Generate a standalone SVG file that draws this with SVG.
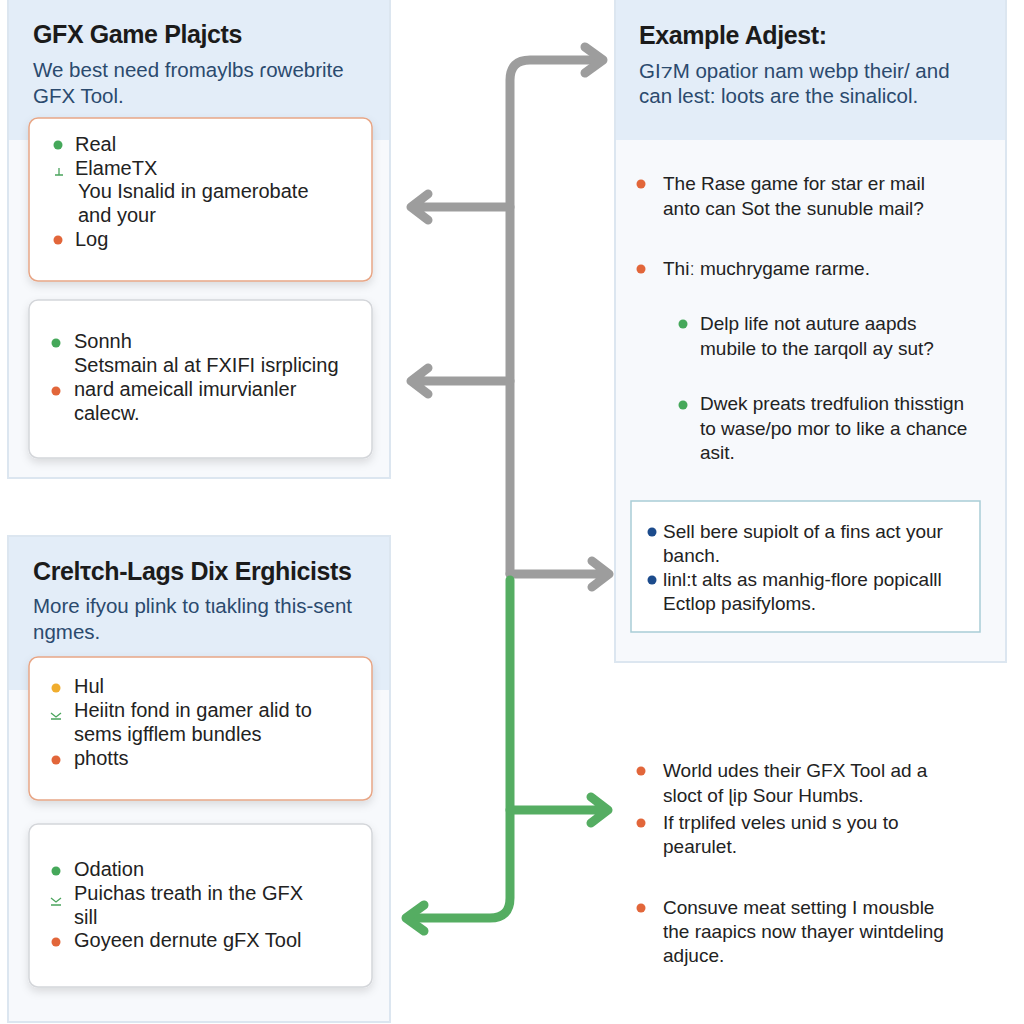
<svg xmlns="http://www.w3.org/2000/svg" width="1024" height="1024" viewBox="0 0 1024 1024">
<defs>
<filter id="sh" x="-10%" y="-10%" width="120%" height="130%">
<feDropShadow dx="0" dy="4" stdDeviation="4" flood-color="#000" flood-opacity="0.12"/>
</filter>
<style>
.panel{fill:#f7f9fc;stroke:#dce6f0;stroke-width:2}
.head{fill:#e3edf8}
.card{fill:#fff;stroke-width:1.5}
.co{stroke:#e8a686}
.cg{stroke:#d4d6da}
.title{font-family:"Liberation Sans",Arial,sans-serif;font-weight:bold;font-size:25px;fill:#1b1b1b;letter-spacing:-0.4px}
.sub{font-family:"Liberation Sans",Arial,sans-serif;font-size:20.5px;fill:#2b4a6e}
.t{font-family:"Liberation Sans",Arial,sans-serif;font-size:20px;fill:#222}
.r{font-size:19px}
.bo{fill:#e2663a}.bg{fill:#45a85a}.bb{fill:#1c4b8c}.by{fill:#f0ad2e}
.gray{fill:none;stroke:#9d9d9d;stroke-width:9;stroke-linecap:round;stroke-linejoin:round}
.green{fill:none;stroke:#55ad62;stroke-width:9;stroke-linecap:round;stroke-linejoin:round}
.ic{fill:none;stroke:#4aa45c;stroke-width:1.3}
</style>
</defs>
<rect width="1024" height="1024" fill="#ffffff"/>

<g id="panel-gfx-game">
<rect class="panel" x="8" y="-2" width="382" height="480"/>
<rect class="head" x="9" y="-1" width="380" height="141"/>
<text class="title" x="33" y="43">GFX Game Plajcts</text>
<text class="sub" x="33" y="77">We best need fromaylbs ɾowebrite</text>
<text class="sub" x="33" y="103">GFX Tool.</text>
</g>

<g id="card-real">
<rect class="card co" x="29" y="118" width="343" height="163" rx="9" filter="url(#sh)"/>
<circle class="bg" cx="58" cy="145" r="4.5"/>
<text class="t" x="75" y="151">Real</text>
<path class="ic" d="M55 175h8M59 168v7"/>
<text class="t" x="75" y="175">ElameTX</text>
<text class="t" x="78" y="198">You Isnalid in gamerobate</text>
<text class="t" x="78" y="222">and your</text>
<circle class="bo" cx="58" cy="240" r="4.5"/>
<text class="t" x="75" y="246">Log</text>
</g>

<g id="card-sonnh">
<rect class="card cg" x="29" y="300" width="343" height="158" rx="9" filter="url(#sh)"/>
<circle class="bg" cx="56" cy="343" r="4.5"/>
<text class="t" x="74" y="348">Sonnh</text>
<text class="t" x="74" y="372">Setsmain al at FXIFI isrplicing</text>
<circle class="bo" cx="56" cy="391" r="4.5"/>
<text class="t" x="74" y="396">nard ameicall imurvianler</text>
<text class="t" x="74" y="420">calecw.</text>
</g>

<g id="panel-crelitch">
<rect class="panel" x="8" y="536" width="382" height="486"/>
<rect class="head" x="9" y="537" width="380" height="153"/>
<text class="title" x="33" y="580">Crelτch-Lags Dix Erghicists</text>
<text class="sub" x="33" y="613">More ifyou plink to tιakling this-sent</text>
<text class="sub" x="33" y="639">ngmes.</text>
</g>

<g id="card-hul">
<rect class="card co" x="29" y="657" width="343" height="143" rx="9" filter="url(#sh)"/>
<circle class="by" cx="56" cy="688" r="4.5"/>
<text class="t" x="74" y="693">Hul</text>
<path class="ic" d="M51 713l5 4 5-4M51 719h10"/>
<text class="t" x="74" y="717">Heiitn fond in gamer alid to</text>
<text class="t" x="74" y="741">sems igfflem bundles</text>
<circle class="bo" cx="56" cy="760" r="4.5"/>
<text class="t" x="74" y="765">photts</text>
</g>

<g id="card-odation">
<rect class="card cg" x="29" y="824" width="343" height="163" rx="9" filter="url(#sh)"/>
<circle class="bg" cx="56" cy="871" r="4.5"/>
<text class="t" x="74" y="876">Odation</text>
<path class="ic" d="M51 898l5 4 5-4M51 905h10"/>
<text class="t" x="74" y="900">Puichas treath in the GFX</text>
<text class="t" x="74" y="924">sill</text>
<circle class="bo" cx="56" cy="942" r="4.5"/>
<text class="t" x="74" y="947">Goyeen dernute gFX Tool</text>
</g>

<g id="panel-example">
<rect class="panel" x="615" y="-2" width="391" height="664"/>
<rect class="head" x="616" y="-1" width="389" height="141"/>
<text class="title" x="639" y="44">Example Adjest:</text>
<text class="sub" x="639" y="78">GI⁊M opatior nam webp their/ and</text>
<text class="sub" x="639" y="103">can lest: loots are the sinalicol.</text>
<circle class="bo" cx="641" cy="184" r="4.5"/>
<text class="t r" x="663" y="190">The Rase game for star er mail</text>
<text class="t r" x="663" y="215">anto can Sot the sunuble mail?</text>
<circle class="bo" cx="641" cy="269" r="4.5"/>
<text class="t r" x="663" y="275">Thiː muchrygame rarme.</text>
<circle class="bg" cx="683" cy="324" r="4.5"/>
<text class="t r" x="700" y="330">Delp life not auture aapds</text>
<text class="t r" x="700" y="355">mubile to the ɪarqoll ay sut?</text>
<circle class="bg" cx="683" cy="405" r="4.5"/>
<text class="t r" x="700" y="410">Dwek preats tredfulion thisstign</text>
<text class="t r" x="700" y="435">to wase/po mor to like a chance</text>
<text class="t r" x="700" y="459">asit.</text>
</g>

<g id="box-sell">
<rect x="631" y="501" width="349" height="131" fill="#fff" stroke="#a9cdd6" stroke-width="1.5"/>
<circle class="bb" cx="652" cy="532" r="4.5"/>
<text class="t r" x="663" y="538">Sell bere supiolt of a fins act your</text>
<text class="t r" x="663" y="562">banch.</text>
<circle class="bb" cx="652" cy="580" r="4.5"/>
<text class="t r" x="663" y="586">linl:t alts as manhig-flore popicalll</text>
<text class="t r" x="663" y="610">Ectlop pasifyloms.</text>
</g>

<g id="list-world">
<circle class="bo" cx="641" cy="771" r="4.5"/>
<text class="t r" x="663" y="777">World udes their GFX Tool ad a</text>
<text class="t r" x="663" y="802">sloct of ɭip Sour Humbs.</text>
<circle class="bo" cx="641" cy="823" r="4.5"/>
<text class="t r" x="663" y="829">If trplifed veles unid s you to</text>
<text class="t r" x="663" y="853">pearulet.</text>
<circle class="bo" cx="641" cy="908" r="4.5"/>
<text class="t r" x="663" y="914">Consuve meat setting I mousble</text>
<text class="t r" x="663" y="938">the raapics now thayer wintdeling</text>
<text class="t r" x="663" y="962">adjuce.</text>
</g>

<g id="connectors">
<path class="gray" d="M510 574V80Q510 60 530 60H602"/>
<path class="gray" d="M585 47L603 60L585 73"/>
<path class="gray" d="M510 207H412M428 194L411 207L428 220"/>
<path class="gray" d="M510 381H412M428 368L411 381L428 394"/>
<path class="gray" d="M510 574H608M592 561L609 574L592 587"/>
<path class="green" d="M510 580V898Q510 918 490 918H408"/>
<path class="green" d="M424 905L406 918L424 931"/>
<path class="green" d="M510 810H607M591 797L608 810L591 823"/>
</g>
</svg>
